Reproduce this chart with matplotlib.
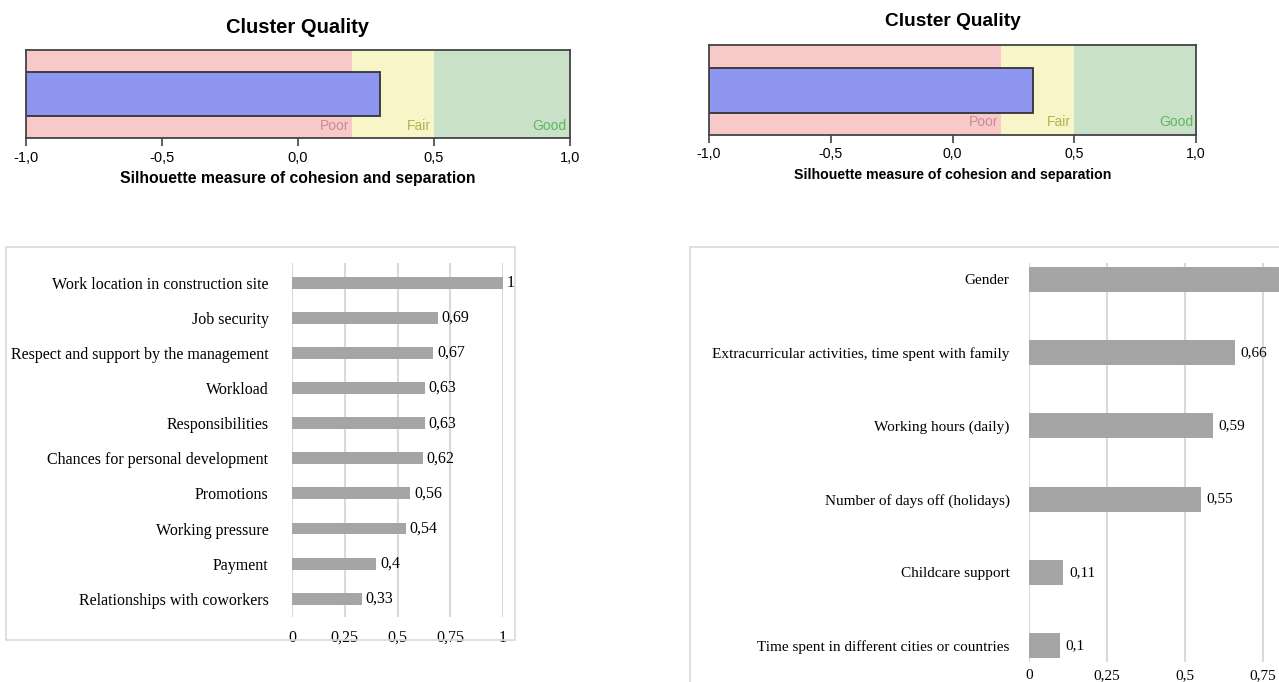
import matplotlib
matplotlib.use("Agg")
import matplotlib.pyplot as plt
from matplotlib.patches import Rectangle

# silhouette scores for the two cluster solutions
scores = [0.3, 0.33]
band_edges = [-1.0, 0.2, 0.5, 1.0]
band_names = ["Poor", "Fair", "Good"]
band_colors = ["#f7c9c9", "#f8f6c9", "#cae1c9"]
band_text = ["#c98c98", "#b5b24a", "#5cb85c"]
sil_ticks = [-1.0, -0.5, 0.0, 0.5, 1.0]

# predictor importance, left and right
left_labels = ["Work location in construction site", "Job security",
               "Respect and support by the management", "Workload",
               "Responsibilities", "Chances for personal development",
               "Promotions", "Working pressure", "Payment",
               "Relationships with coworkers"]
left_values = [1, 0.69, 0.67, 0.63, 0.63, 0.62, 0.56, 0.54, 0.4, 0.33]

right_labels = ["Gender", "Extracurricular activities, time spent with family",
                "Working hours (daily)", "Number of days off (holidays)",
                "Childcare support", "Time spent in different cities or countries"]
right_values = [1, 0.66, 0.59, 0.55, 0.11, 0.1]

imp_ticks = [0, 0.25, 0.5, 0.75, 1]

W, H = 1279, 682
fig = plt.figure(figsize=(W / 100, H / 100), dpi=100)


def px_axes(x0, y0, x1, y1):
    # pixel box (top-left origin) -> figure axes
    return fig.add_axes([x0 / W, 1 - y1 / H, (x1 - x0) / W, (y1 - y0) / H])


def comma(v):
    return f"{v:g}".replace(".", ",")


sans = "Liberation Sans"
serif = "Liberation Serif"


def quality(ax, score, title_pad, title_fs, label_fs, tick_fs):
    for i in range(3):
        ax.axvspan(band_edges[i], band_edges[i + 1], color=band_colors[i], lw=0)
        ax.text(band_edges[i + 1] - 0.012, 0.14, band_names[i], ha="right",
                va="center", color=band_text[i], fontsize=10, family=sans)
    ax.barh(0.5, score + 1, left=-1, height=0.5, color="#8e96f0",
            edgecolor="#333333", linewidth=1.3)
    ax.set_xlim(-1, 1)
    ax.set_ylim(0, 1)
    ax.set_yticks([])
    ax.set_xticks(sil_ticks)
    ax.set_xticklabels([f"{t:.1f}".replace(".", ",") for t in sil_ticks],
                       fontsize=tick_fs, family=sans)
    ax.tick_params(axis="x", length=6, width=1.2, color="#444444", pad=3)
    for s in ax.spines.values():
        s.set_color("#444444")
        s.set_linewidth(1.3)
    ax.set_title("Cluster Quality", fontsize=title_fs, fontweight="bold",
                 family=sans, pad=title_pad)
    ax.set_xlabel("Silhouette measure of cohesion and separation",
                  fontsize=label_fs, fontweight="bold", family=sans, labelpad=5)


ax1 = px_axes(26, 50, 570, 138)
quality(ax1, scores[0], 12, 14.5, 11.3, 10.5)
ax2 = px_axes(709, 45, 1196, 135)
quality(ax2, scores[1], 14, 13.8, 10.2, 10.2)


def importance(ax, labels, values, ylim, fs, ypad, tickpad):
    ys = list(range(len(labels)))
    ax.barh(ys, values, height=0.34, color="#a5a5a5", zorder=3)
    ax.set_xlim(0, 1)
    ax.set_ylim(*ylim)
    for y, v in zip(ys, values):
        # labels that fall past the page edge are not visible in the source
        if ax.transData.transform((v + 0.018, y))[0] < W - 10:
            ax.text(v + 0.018, y, comma(v), va="center", ha="left",
                    fontsize=fs, family=serif, clip_on=False)
    ax.set_yticks(ys)
    ax.set_yticklabels(labels, fontsize=fs, family=serif)
    ax.set_xticks(imp_ticks)
    ax.set_xticklabels([comma(t) for t in imp_ticks], fontsize=fs, family=serif)
    ax.tick_params(length=0)
    ax.tick_params(axis="y", pad=ypad)
    ax.tick_params(axis="x", pad=tickpad)
    ax.grid(axis="x", color="#d9d9d9", linewidth=1.5, zorder=0)
    for s in ax.spines.values():
        s.set_visible(False)


ax3 = px_axes(292, 263, 503, 617)
importance(ax3, left_labels, left_values, (9.52, -0.56), 11.5, 17, 9)
ax4 = px_axes(1029, 263, 1341, 662)
importance(ax4, right_labels, right_values, (5.225, -0.225), 11, 14, 5)

# chart borders
fig.patches.append(Rectangle((6 / W, 1 - 640 / H), 509 / W, 393 / H,
                             transform=fig.transFigure, fill=False,
                             edgecolor="#d9d9d9", linewidth=1.2))
fig.patches.append(Rectangle((690 / W, -0.1), 1.0, 1.1 - 247 / H,
                             transform=fig.transFigure, fill=False,
                             edgecolor="#d9d9d9", linewidth=1.2))

fig.savefig("out.png", dpi=100)
